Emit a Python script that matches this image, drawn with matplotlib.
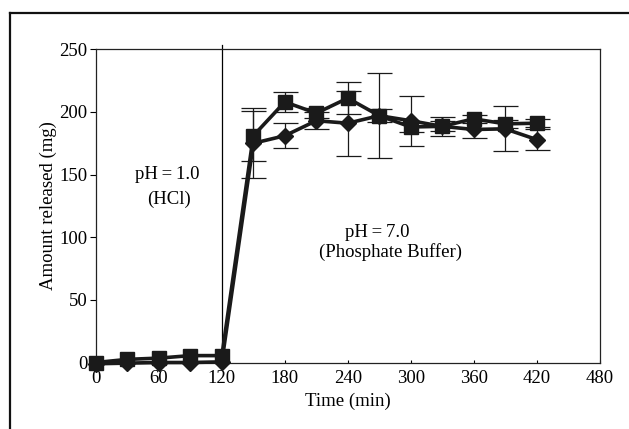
import matplotlib
matplotlib.use("Agg")
import matplotlib.pyplot as plt
from matplotlib.lines import Line2D

plt.rcParams['font.family'] = ['Liberation Serif', 'DejaVu Serif']

time = [0, 30, 60, 90, 120, 150, 180, 210, 240, 270, 300, 330, 360, 390, 420]
square = [0, 2.5, 3.5, 5.5, 5.5, 181, 208, 199, 211, 197, 188, 188.5, 194.5, 190.5, 191]
square_err = [0, 0, 0, 0, 0, 20, 8, 4, 13, 34, 4, 4, 3, 3, 3]
diamond = [-1, -0.5, 0, 0, 0.5, 175, 181, 193, 191, 197, 193, 188.5, 186, 186.5, 178]
diamond_err = [0, 0, 0, 0, 0, 28, 10, 7, 26, 5, 20, 7.5, 7, 18, 8]

xticks = [0, 60, 120, 180, 240, 300, 360, 420, 480]
yticks = [0, 50, 100, 150, 200, 250]
switch_time = 120

W, H = 629, 429
fig = plt.figure(figsize=(W / 100, H / 100), dpi=100)
ax = fig.add_axes([96 / W, 1 - 362.5 / H, (599.5 - 96) / W, (362.5 - 49.3) / H])

col = '#1a1a1a'
for y, e, m, ms in [(diamond, diamond_err, 'D', 8.5), (square, square_err, 's', 10.5)]:
    idx = [i for i, v in enumerate(e) if v > 0]
    ax.errorbar([time[i] for i in idx], [y[i] for i in idx], yerr=[e[i] for i in idx],
                fmt='none', ecolor=col, elinewidth=0.9,
                capsize=9, capthick=0.9, clip_on=False, zorder=2)
    ax.plot(time, y, color=col, lw=2.6, marker=m, markersize=ms,
            markerfacecolor=col, markeredgecolor=col, clip_on=False, zorder=3)

ax.plot([switch_time, switch_time], [0, 253.5], color='black', lw=0.9,
        clip_on=False, zorder=1)

ax.set_xlim(0, 480)
ax.set_ylim(0, 250)
ax.set_xticks(xticks)
ax.set_yticks(yticks)
ax.tick_params(axis='x', direction='in', length=2.5, width=0.8, labelsize=13.5, pad=5.5)
ax.tick_params(axis='y', direction='out', length=4, width=0.8, labelsize=13.5, pad=2)
for s in ax.spines.values():
    s.set_linewidth(0.9)
    s.set_color('#222222')

ax.set_xlabel('Time (min)', fontsize=13.5, labelpad=4)
ax.set_ylabel('Amount released (mg)', fontsize=13.5, labelpad=1.5)

ax.text(68, 150, 'pH\u2009=\u20091.0', ha='center', va='center', fontsize=13.5)
ax.text(70, 130.5, '(HCl)', ha='center', va='center', fontsize=13.5)
ax.text(268, 104, 'pH\u2009=\u20097.0', ha='center', va='center', fontsize=13.5)
ax.text(281, 88, '(Phosphate Buffer)', ha='center', va='center', fontsize=13.5)

# outer frame (top and left)
fig.add_artist(Line2D([10 / W, 1.0], [1 - 12.7 / H, 1 - 12.7 / H], color='#111111', lw=1.6,
                      transform=fig.transFigure))
fig.add_artist(Line2D([10 / W, 10 / W], [0, 1 - 12.7 / H], color='#111111', lw=1.6,
                      transform=fig.transFigure))

fig.savefig('out.png', dpi=100)
